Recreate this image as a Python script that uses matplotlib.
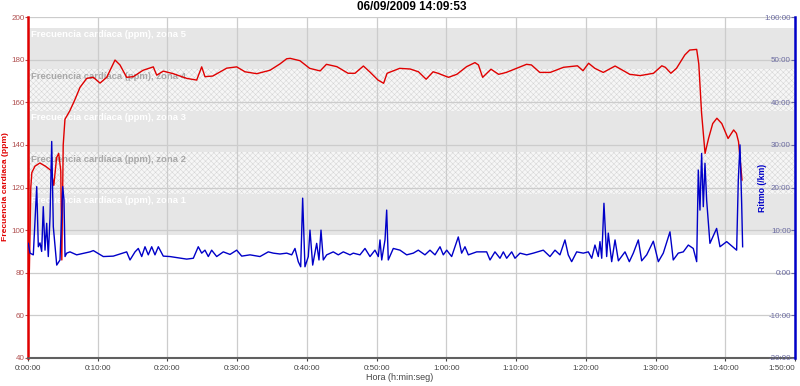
import matplotlib
matplotlib.use("Agg")
import matplotlib.pyplot as plt

plt.rcParams['font.family'] = ['Liberation Sans', 'DejaVu Sans']
plt.rcParams['hatch.linewidth'] = 0.35

title = '06/09/2009 14:09:53'

# heart rate (minutes, ppm)
hr_t = [0, 0.05, 0.2, 0.3, 0.4, 0.55, 1.0, 1.7, 2.5, 3.3, 3.7, 4.1, 4.4, 4.7, 4.85,
        5.05, 5.3, 6.0, 6.7, 7.46, 8.42, 9.36, 10.33, 11.29, 12.48, 13.19, 14.15,
        15.1, 16.5, 17.97, 18.46, 19.4, 20.84, 22.76, 24.19, 24.91, 25.38, 26.5,
        28.5, 29.93, 31.12, 32.8, 34.7, 36.14, 37.1, 37.6, 39.0, 40.4, 41.9, 42.8,
        44.3, 45.9, 46.9, 48.1, 49.0, 50.2, 51.0, 51.5, 53.3, 54.8, 56.0, 57.1,
        58.1, 58.8, 60.3, 61.5, 62.9, 64.1, 64.6, 65.2, 66.4, 67.5, 68.6, 71.5,
        72.2, 73.4, 74.9, 76.8, 78.8, 79.6, 80.4, 81.3, 82.5, 84.2, 85.4, 86.3,
        87.8, 89.7, 90.9, 91.4, 92.2, 93.0, 94.2, 94.9, 95.9, 96.2, 96.6, 97.1,
        97.6, 98.2, 98.8, 99.5, 100.4, 101.2, 101.6, 101.9, 102.4]
hr_v = [40, 66, 82, 100, 120, 127, 130, 131.5, 130, 128, 121, 134, 136, 128, 86,
        140, 152, 156, 161, 167, 171.2, 171.7, 169, 171.7, 179.8, 177.5, 171.7,
        172, 175, 176.6, 172.7, 174.6, 173.4, 171.2, 170.4, 176.6, 172, 172.3,
        176, 176.6, 174.3, 173.4, 175, 178, 180.4, 180.6, 179.5, 175.9, 174.7, 177.8,
        176.7, 173.6, 173.6, 177, 174.3, 170.4, 168.9, 173.6, 175.9, 175.6, 174.3, 170.8,
        174.3, 173.6, 171.7, 173.1, 176.7, 178.6, 177.5, 171.7, 175.5, 173.1, 174.0, 177.8,
        177.5, 174.0, 174.0, 176.4, 177.1, 174.8, 178.3, 175.9, 174.0, 177.0, 174.8, 173.1,
        172.5, 173.6, 177.1, 176.4, 173.6, 175.9, 182.2, 184.5, 184.8, 178, 155, 136,
        143, 150, 152.5, 150, 143, 147, 145.4, 141.5, 123.5]

# pace (minutes, min/km)
pace_t = [0.04, 0.29, 0.76, 1.25, 1.48, 1.72, 1.96, 2.19, 2.44, 2.68, 2.91, 3.16, 3.40,
          3.63, 4.12, 4.59, 4.98, 5.16, 5.31, 5.55, 6.02, 6.98, 8.89, 9.37, 10.8,
          12.23, 14.15, 14.63, 15.35, 15.82, 16.31, 16.78, 17.25, 17.74, 18.21, 18.69,
          19.40, 20.36, 22.76, 23.71, 24.42, 24.91, 25.38, 25.86, 26.34, 27.06, 28.01,
          28.97, 29.93, 30.65, 31.84, 33.27, 34.46, 35.18, 36.14, 37.10, 37.82, 38.29,
          38.76, 39.11, 39.39, 39.72, 40.20, 40.44, 40.83, 41.40, 41.73, 42.02, 42.35,
          42.84, 43.78, 44.50, 45.22, 46.18, 46.65, 47.61, 48.33, 49.05, 49.76, 50.24,
          50.48, 50.73, 51.20, 51.44, 51.67, 52.39, 53.35, 54.31, 55.26, 55.97, 56.93,
          57.65, 58.37, 59.09, 59.56, 60.05, 60.76, 61.71, 62.19, 62.67, 63.15, 64.35,
          65.78, 66.26, 66.97, 67.69, 68.17, 68.65, 69.37, 69.84, 70.56, 71.52, 72.47,
          73.90, 74.86, 75.58, 76.29, 77.01, 77.48, 77.97, 78.69, 79.64, 80.36, 80.85,
          81.31, 81.79, 82.03, 82.28, 82.60, 82.99, 83.22, 83.71, 84.19, 84.67, 85.62,
          86.24, 86.81, 87.53, 88.01, 88.73, 89.68, 90.40, 91.11, 92.07, 92.54, 93.26,
          93.98, 94.70, 95.41, 95.90, 96.13, 96.37, 96.61, 96.85, 97.09, 97.33, 97.80,
          98.76, 99.24, 100.20, 101.63, 101.87, 102.11, 102.35, 102.49]
pace_v = [6.9, 4.6, 4.2, 20.2, 6.1, 7.0, 5.0, 15.5, 5.3, 11.6, 3.8, 13.2, 30.8,
          10.8, 1.8, 3.0, 20.2, 17.1, 3.8, 4.6, 4.9, 4.2, 4.9, 5.2, 3.8,
          3.9, 4.9, 3.0, 4.9, 5.7, 3.8, 6.1, 4.2, 6.1, 4.2, 6.1,
          3.9, 3.8, 3.2, 3.4, 6.1, 4.6, 5.3, 3.8, 5.3, 3.8, 4.9,
          4.3, 5.3, 3.9, 4.2, 3.8, 4.9, 4.6, 4.4, 4.6, 4.2, 5.7,
          2.6, 1.4, 17.5, 1.4, 3.8, 10.0, 1.8, 6.9, 3.0, 10.0, 3.0,
          4.2, 4.9, 4.2, 4.9, 4.2, 4.6, 4.2, 5.7, 3.8, 5.3, 3.8,
          7.7, 3.0, 7.7, 14.7, 3.0, 5.7, 5.3, 4.2, 4.6, 5.3, 4.2,
          5.3, 4.2, 6.1, 4.2, 5.3, 3.8, 8.4, 4.6, 6.1, 4.2, 4.9,
          4.9, 3.0, 4.9, 3.4, 4.9, 3.4, 4.9, 3.4, 4.6, 4.2, 4.6,
          5.3, 3.8, 5.3, 4.2, 7.7, 4.2, 2.6, 4.9, 4.6, 4.9, 3.4,
          6.5, 3.8, 7.3, 3.4, 16.3, 3.8, 9.3, 2.6, 7.7, 2.8, 4.9,
          2.6, 4.6, 7.7, 2.8, 4.2, 7.4, 2.6, 4.6, 9.6, 3.0, 4.6,
          4.9, 6.5, 5.7, 2.6, 24.1, 14.7, 28.0, 15.5, 25.7, 17.0, 6.9,
          10.4, 6.1, 7.3, 5.3, 21.8, 30.0, 16.3, 6.1]

# heart-rate zones (lower, upper)
zone_lo = [97.5, 117, 136.5, 156, 175.5]
zone_hi = [117, 136.5, 156, 175.5, 195]
zone_names = ['Frecuencia cardíaca (ppm), zona %d' % i for i in range(1, 6)]

x_ticks = list(range(0, 111, 10))
x_labels = ['%d:%02d:00' % (m // 60, m % 60) for m in x_ticks]
pace_ticks = list(range(-20, 61, 10))
pace_labels = ['-20:00', '-10:00', '0:00', '10:00', '20:00', '30:00', '40:00', '50:00', '1:00:00']

red = '#e00000'
blue = '#0000c8'

fig = plt.figure(figsize=(8, 3.86), dpi=100)
ax = fig.add_axes([28 / 800, 28 / 386, 767 / 800, 341 / 386])

# zone bands: odd zones solid grey, even zones hatched
for i in range(5):
    if i % 2 == 0:
        ax.axhspan(zone_lo[i], zone_hi[i], facecolor='#e6e6e6', edgecolor='none', zorder=0)
        tc = 'white'
    else:
        ax.axhspan(zone_lo[i], zone_hi[i], facecolor='#f6f6f6', edgecolor='#d4d4d4',
                   hatch='xxxxxx', linewidth=0, zorder=0)
        tc = '#a8a8a8'
    ax.text(0.4, zone_hi[i] - 1.2, zone_names[i], color=tc, fontsize=6.8,
            fontweight='bold', va='top', ha='left', zorder=1)

ax.plot(hr_t, hr_v, color=red, lw=1.0, zorder=3)

ax.set_xlim(0, 110)
ax.set_ylim(40, 200)
ax.set_xticks(x_ticks)
ax.set_xticklabels(x_labels)
ax.set_yticks(range(40, 201, 20))
ax.grid(True, color='#cccccc', lw=0.9)
for gl in ax.get_xgridlines() + ax.get_ygridlines():
    gl.set_zorder(0.5)
ax.tick_params(axis='x', labelsize=5.8, colors='#444444', length=2, pad=3)
ax.tick_params(axis='y', labelsize=5.8, labelcolor='#b05050', color='#b05050', length=2, pad=0.5)
ax.get_xticklabels()[-1].set_horizontalalignment('right')

ax.spines['left'].set_color(red)
ax.spines['left'].set_linewidth(1.8)
ax.spines['bottom'].set_color('#606060')
ax.spines['bottom'].set_linewidth(1.5)
ax.spines['top'].set_visible(False)
ax.spines['right'].set_visible(False)

fig.text(5.5 / 800, 1 - 187 / 386, 'Frecuencia cardíaca (ppm)', color=red, fontsize=6.1,
         fontweight='bold', rotation=90, ha='center', va='center')
ax.set_xlabel('Hora (h:min:seg)', color='#444444', fontsize=6.5)
ax.xaxis.set_label_coords(0.485, -0.045)
ax.set_title(title, fontsize=8.5, fontweight='bold', pad=5)

ax2 = ax.twinx()
ax2.plot(pace_t, pace_v, color=blue, lw=1.0, zorder=4)
ax2.set_ylim(-20, 60)
ax2.set_yticks(pace_ticks)
ax2.set_yticklabels(pace_labels)
ax2.tick_params(axis='y', direction='in', labelsize=5.8, labelcolor='#6a6aa0',
                color='#6a6aa0', length=3, pad=-3)
for lab in ax2.get_yticklabels():
    lab.set_horizontalalignment('right')
ax2.spines['right'].set_color(blue)
ax2.spines['right'].set_linewidth(1.8)
ax2.spines['left'].set_visible(False)
ax2.spines['top'].set_visible(False)
ax2.spines['bottom'].set_visible(False)
ax2.text(0.957, 0.5, 'Ritmo (/km)', transform=ax2.transAxes, color=blue, fontsize=6.3,
         fontweight='bold', rotation=90, ha='center', va='center')

fig.savefig('out.png', dpi=100)
